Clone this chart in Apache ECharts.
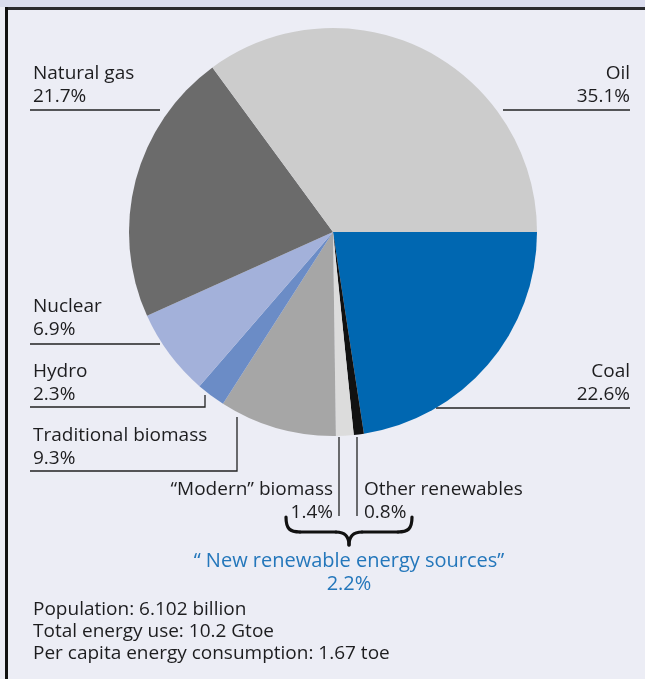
<!DOCTYPE html>
<html>
<head>
<meta charset="utf-8">
<script src="https://cdn.jsdelivr.net/npm/echarts@6/dist/echarts.min.js"></script>
<style>
  html, body { margin: 0; padding: 0; background: #ecedf5; }
  #chart { width: 645px; height: 679px; }
</style>
</head>
<body>
<div id="chart"></div>
<script>
// World primary energy mix, shares in percent (clockwise from 3 o'clock)
const sources = ['Coal', 'Other renewables', '\u201cModern\u201d biomass', 'Traditional biomass',
                 'Hydro', 'Nuclear', 'Natural gas', 'Oil'];
const shares  = [22.6, 0.8, 1.4, 9.3, 2.3, 6.9, 21.7, 35.1];
const colors  = ['#0067b1', '#111111', '#dcdcdc', '#a6a6a6', '#6b8cc6', '#a3b1da', '#6b6b6b', '#cccccc'];

// Headline figures printed under the pie
const footnotes = [
  'Population: 6.102 billion',
  'Total energy use: 10.2 Gtoe',
  'Per capita energy consumption: 1.67 toe'
];

const FONT = '"Open Sans", "Noto Sans", sans-serif';
const INK = '#1d1d1f';
const SIZE = 19;

// where each slice's caption sits: [x, y, align]
const captionPos = [
  [630, 383, 'right'],   // Coal
  [364, 501, 'left'],    // Other renewables
  [333, 501, 'right'],   // Modern biomass
  [33, 447, 'left'],     // Traditional biomass
  [33, 383, 'left'],     // Hydro
  [33, 318, 'left'],     // Nuclear
  [33, 85, 'left'],      // Natural gas
  [630, 85, 'right']     // Oil
];

const newRenewables = (shares[1] + shares[2]).toFixed(1);

function line(points, width) {
  return {
    type: 'polyline', silent: true,
    shape: { points: points },
    style: { stroke: '#222', lineWidth: width || 1.3, fill: null }
  };
}

// one piece of the curly brace
function braceCurve(x1, y1, cx1, cy1, cx2, cy2, x2, y2) {
  return {
    type: 'bezierCurve', silent: true,
    shape: { x1: x1, y1: y1, cpx1: cx1, cpy1: cy1, cpx2: cx2, cpy2: cy2, x2: x2, y2: y2 },
    style: { stroke: '#111', lineWidth: 3.2, fill: null, lineCap: 'round' }
  };
}
function braceLine(x1, y1, x2, y2) {
  return {
    type: 'line', silent: true,
    shape: { x1: x1, y1: y1, x2: x2, y2: y2 },
    style: { stroke: '#111', lineWidth: 3.2, lineCap: 'round' }
  };
}

const chart = echarts.init(document.getElementById('chart'));
chart.setOption({
  animation: false,
  backgroundColor: '#ecedf5',
  graphic: [
    // frame: pale strip on top, dark rule below it and on the left
    { type: 'rect', silent: true, shape: { x: 0, y: 0, width: 645, height: 7 }, style: { fill: '#dadcee' } },
    { type: 'rect', silent: true, shape: { x: 5, y: 7, width: 640, height: 3 }, style: { fill: '#2a2a2e' } },
    { type: 'rect', silent: true, shape: { x: 5, y: 7, width: 3, height: 672 }, style: { fill: '#111' } },

    // caption rules
    line([[30, 110], [160, 110]]),
    line([[503, 110], [630, 110]]),
    line([[30, 344], [160, 344]]),
    line([[30, 407], [205, 407], [205, 395]]),
    line([[30, 471], [237, 471], [237, 417]]),
    line([[436, 408], [630, 408]]),
    line([[339, 437], [339, 516]]),
    line([[357, 437], [357, 516]]),

    // brace grouping the two new renewable sources
    braceCurve(286, 517, 286, 529, 290, 532, 300, 532),
    braceLine(300, 532, 336, 532),
    braceCurve(336, 532, 345, 532, 349, 537, 349, 545),
    braceCurve(349, 545, 349, 537, 353, 532, 362, 532),
    braceLine(362, 532, 398, 532),
    braceCurve(398, 532, 408, 532, 412, 529, 412, 517),

    {
      type: 'text', silent: true,
      x: 349, y: 573,
      style: {
        text: '\u201c New renewable energy sources\u201d\n' + newRenewables + '%',
        font: '20px ' + FONT, fill: '#2477bb',
        align: 'center', verticalAlign: 'middle', lineHeight: 23
      }
    },
    {
      type: 'text', silent: true,
      x: 33, y: 632,
      style: {
        text: footnotes.join('\n'),
        font: SIZE + 'px ' + FONT, fill: INK,
        align: 'left', verticalAlign: 'middle', lineHeight: 22
      }
    }
  ],
  series: [{
    type: 'pie',
    center: [333, 232],
    radius: 204,
    startAngle: 0,
    clockwise: true,
    avoidLabelOverlap: false,
    silent: true,
    itemStyle: { borderWidth: 0 },
    label: {
      show: true,
      position: 'outside',
      formatter: p => p.name + '\n' + p.value.toFixed(1) + '%',
      fontFamily: FONT,
      fontSize: SIZE,
      color: INK,
      lineHeight: 23
    },
    labelLine: { show: false },
    labelLayout: p => {
      const c = captionPos[p.dataIndex];
      return { x: c[0], y: c[1], align: c[2], verticalAlign: 'middle' };
    },
    data: sources.map((s, i) => ({ name: s, value: shares[i], itemStyle: { color: colors[i] } }))
  }]
});
</script>
</body>
</html>
